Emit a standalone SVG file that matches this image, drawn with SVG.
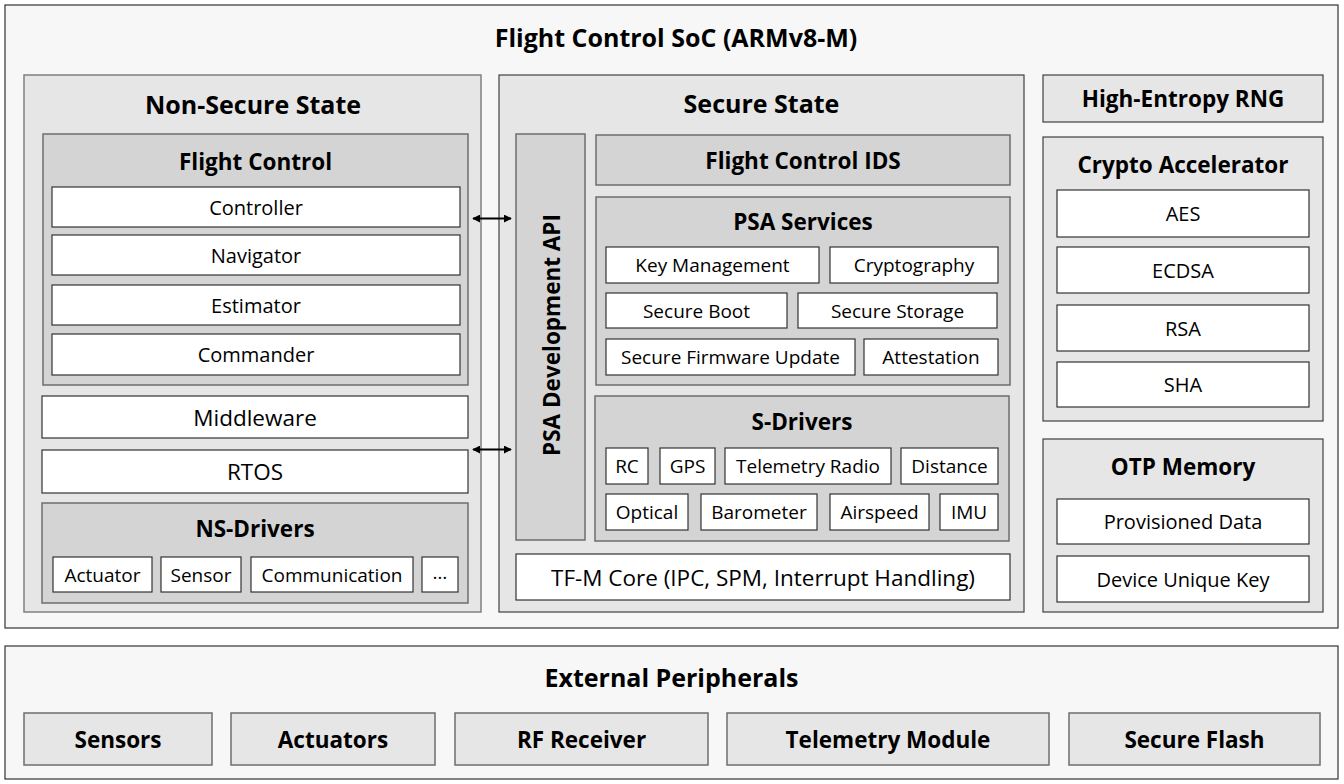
<svg xmlns="http://www.w3.org/2000/svg" width="1344" height="784" viewBox="0 0 1344 784">
<defs>
<style>
text{font-family:"Open Sans","Noto Sans","DejaVu Sans",sans-serif;fill:#000;text-anchor:middle;dominant-baseline:central}
.t1{font-size:25px;font-weight:bold}
.t2{font-size:22.5px;font-weight:bold}
.r18{font-size:20px}
.r17{font-size:19px}
.r20{font-size:22.5px}
.soc{fill:#f7f7f7;stroke:#333;stroke-width:1.2}
.lvl1{fill:#e6e6e6;stroke:#808080;stroke-width:1.5}
.lvl1d{fill:#e6e6e6;stroke:#404040;stroke-width:1.2}
.lvl2{fill:#d4d4d4;stroke:#6e6e6e;stroke-width:1.5}
.leaf{fill:#fff;stroke:#333;stroke-width:1.2}
.per{fill:#e6e6e6;stroke:#6e6e6e;stroke-width:1.5}
.conn{stroke:#000;stroke-width:2;fill:none}
</style>
<marker id="ah" viewBox="0 0 10 10" refX="9" refY="5" markerWidth="4" markerHeight="4" orient="auto-start-reverse" markerUnits="strokeWidth">
<path d="M0,0 L10,5 L0,10 z" fill="#000"/>
</marker>
</defs>

<g id="soc">
<rect class="soc" x="5" y="5" width="1333" height="623"/>
<text class="t1" x="676" y="37">Flight Control SoC (ARMv8-M)</text>
</g>

<g id="non-secure">
<rect class="lvl1" x="24" y="75" width="457" height="537"/>
<text class="t1" x="253" y="104">Non-Secure State</text>
</g>
<g id="flight-control">
<rect class="lvl2" x="43" y="134" width="425" height="251"/>
<text class="t2" x="255.5" y="161">Flight Control</text>
</g>
<g id="controller"><rect class="leaf" x="52" y="187" width="408" height="40"/><text class="r18" x="256" y="207">Controller</text></g>
<g id="navigator"><rect class="leaf" x="52" y="235" width="408" height="40"/><text class="r18" x="256" y="255">Navigator</text></g>
<g id="estimator"><rect class="leaf" x="52" y="285" width="408" height="40"/><text class="r18" x="256" y="305">Estimator</text></g>
<g id="commander"><rect class="leaf" x="52" y="334" width="408" height="41"/><text class="r18" x="256" y="354.5">Commander</text></g>
<g id="middleware"><rect class="leaf" x="42" y="396" width="426" height="42"/><text class="r20" x="255" y="417">Middleware</text></g>
<g id="rtos"><rect class="leaf" x="42" y="450" width="426" height="43"/><text class="r20" x="255" y="471">RTOS</text></g>
<g id="ns-drivers">
<rect class="lvl2" x="42" y="503" width="426" height="100"/>
<text class="t2" x="255" y="528">NS-Drivers</text>
</g>
<g id="ns-actuator"><rect class="leaf" x="53" y="557" width="99" height="35"/><text class="r17" x="102.5" y="574.5">Actuator</text></g>
<g id="ns-sensor"><rect class="leaf" x="161" y="557" width="80" height="35"/><text class="r17" x="201" y="574.5">Sensor</text></g>
<g id="ns-communication"><rect class="leaf" x="251" y="557" width="162" height="35"/><text class="r17" x="332" y="574.5">Communication</text></g>
<g id="ns-more"><rect class="leaf" x="422" y="557" width="36" height="35"/><text class="r17" x="440" y="572">…</text></g>

<g id="secure">
<rect class="lvl1d" x="499" y="75" width="525" height="537"/>
<text class="t1" x="761.5" y="103">Secure State</text>
</g>
<g id="psa-api">
<rect class="lvl2" x="516" y="134" width="69" height="406"/>
<text class="t2" transform="translate(551,335) rotate(-90)">PSA Development API</text>
</g>
<g id="fc-ids">
<rect class="lvl2" x="596" y="135" width="414" height="50"/>
<text class="t2" x="803" y="160">Flight Control IDS</text>
</g>
<g id="psa-services">
<rect class="lvl2" x="596" y="197" width="414" height="188"/>
<text class="t2" x="803" y="221">PSA Services</text>
</g>
<g id="key-mgmt"><rect class="leaf" x="606" y="247" width="213" height="36"/><text class="r17" x="712.5" y="265">Key Management</text></g>
<g id="cryptography"><rect class="leaf" x="830" y="247" width="168" height="36"/><text class="r17" x="914" y="265">Cryptography</text></g>
<g id="secure-boot"><rect class="leaf" x="606" y="293" width="181" height="35"/><text class="r17" x="696.5" y="310.5">Secure Boot</text></g>
<g id="secure-storage"><rect class="leaf" x="798" y="293" width="199" height="35"/><text class="r17" x="897.5" y="310.5">Secure Storage</text></g>
<g id="sfu"><rect class="leaf" x="606" y="339" width="249" height="36"/><text class="r17" x="730.5" y="357">Secure Firmware Update</text></g>
<g id="attestation"><rect class="leaf" x="864" y="339" width="134" height="36"/><text class="r17" x="931" y="357">Attestation</text></g>
<g id="s-drivers">
<rect class="lvl2" x="595" y="396" width="414" height="145"/>
<text class="t2" x="802" y="421">S-Drivers</text>
</g>
<g id="s-rc"><rect class="leaf" x="606" y="448" width="42" height="36"/><text class="r17" x="627" y="466">RC</text></g>
<g id="s-gps"><rect class="leaf" x="660" y="448" width="55" height="36"/><text class="r17" x="687.5" y="466">GPS</text></g>
<g id="s-telemetry"><rect class="leaf" x="725" y="448" width="166" height="36"/><text class="r17" x="808" y="466">Telemetry Radio</text></g>
<g id="s-distance"><rect class="leaf" x="901" y="448" width="97" height="36"/><text class="r17" x="949.5" y="466">Distance</text></g>
<g id="s-optical"><rect class="leaf" x="606" y="494" width="82" height="36"/><text class="r17" x="647" y="512">Optical</text></g>
<g id="s-barometer"><rect class="leaf" x="701" y="494" width="116" height="36"/><text class="r17" x="759" y="512">Barometer</text></g>
<g id="s-airspeed"><rect class="leaf" x="830" y="494" width="99" height="36"/><text class="r17" x="879.5" y="512">Airspeed</text></g>
<g id="s-imu"><rect class="leaf" x="940" y="494" width="58" height="36"/><text class="r17" x="969" y="512">IMU</text></g>
<g id="tfm-core"><rect class="leaf" x="516" y="554" width="494" height="46"/><text class="r20" x="763" y="577">TF-M Core (IPC, SPM, Interrupt Handling)</text></g>

<g id="rng">
<rect class="lvl1d" x="1043" y="75" width="280" height="47"/>
<text class="t2" x="1183" y="98.5">High-Entropy RNG</text>
</g>
<g id="crypto-acc">
<rect class="lvl1d" x="1043" y="137" width="280" height="284"/>
<text class="t2" x="1183" y="164">Crypto Accelerator</text>
</g>
<g id="aes"><rect class="leaf" x="1057" y="190" width="252" height="47"/><text class="r18" x="1183" y="213.5">AES</text></g>
<g id="ecdsa"><rect class="leaf" x="1057" y="247" width="252" height="46"/><text class="r18" x="1183" y="270">ECDSA</text></g>
<g id="rsa"><rect class="leaf" x="1057" y="305" width="252" height="46"/><text class="r18" x="1183" y="328">RSA</text></g>
<g id="sha"><rect class="leaf" x="1057" y="362" width="252" height="45"/><text class="r18" x="1183" y="384.5">SHA</text></g>
<g id="otp">
<rect class="lvl1d" x="1043" y="439" width="280" height="173"/>
<text class="t2" x="1183" y="466">OTP Memory</text>
</g>
<g id="provisioned"><rect class="leaf" x="1057" y="499" width="252" height="45"/><text class="r18" x="1183" y="521.5">Provisioned Data</text></g>
<g id="duk"><rect class="leaf" x="1057" y="556" width="252" height="46"/><text class="r18" x="1183" y="579">Device Unique Key</text></g>

<g id="external">
<rect class="soc" x="5" y="646" width="1333" height="133"/>
<text class="t1" x="671.5" y="677">External Peripherals</text>
</g>
<g id="p-sensors"><rect class="per" x="24" y="713" width="188" height="52"/><text class="t2" x="118" y="739">Sensors</text></g>
<g id="p-actuators"><rect class="per" x="231" y="713" width="204" height="52"/><text class="t2" x="333" y="739">Actuators</text></g>
<g id="p-rf"><rect class="per" x="455" y="713" width="253" height="52"/><text class="t2" x="581.5" y="739">RF Receiver</text></g>
<g id="p-telemetry"><rect class="per" x="727" y="713" width="322" height="52"/><text class="t2" x="888" y="739">Telemetry Module</text></g>
<g id="p-flash"><rect class="per" x="1069" y="713" width="251" height="52"/><text class="t2" x="1194.5" y="739">Secure Flash</text></g>

<g id="connectors">
<line class="conn" x1="473" y1="218.5" x2="511" y2="218.5" marker-start="url(#ah)" marker-end="url(#ah)"/>
<line class="conn" x1="473" y1="449.5" x2="511" y2="449.5" marker-start="url(#ah)" marker-end="url(#ah)"/>
</g>
</svg>
